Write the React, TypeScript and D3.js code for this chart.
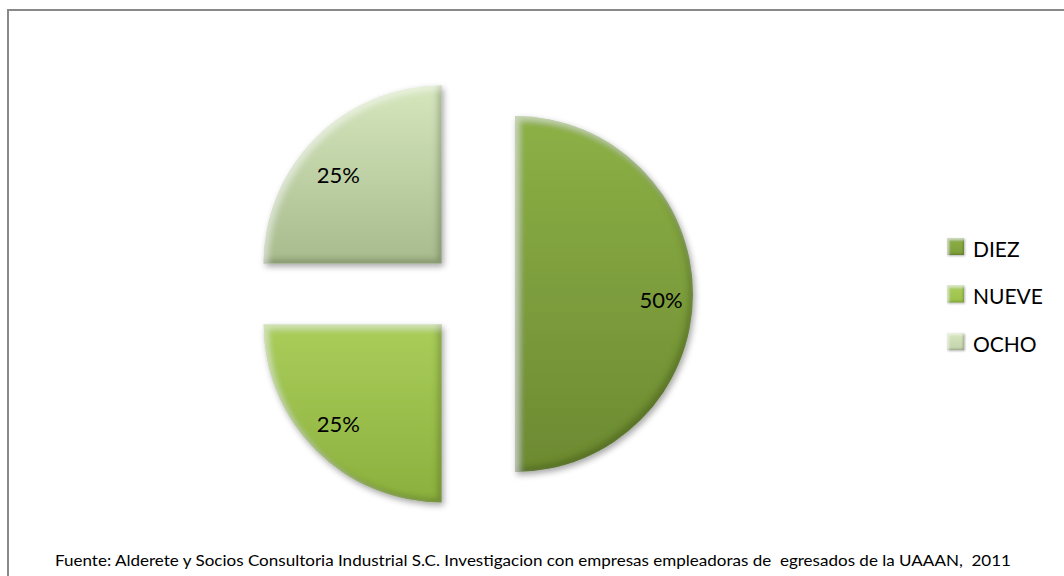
import React from "react";
import * as d3 from "d3";

const categories = ["DIEZ", "NUEVE", "OCHO"];
const values = [50, 25, 25];
const labels = ["50%", "25%", "25%"];
const topColors = ["#8db046", "#aacd5a", "#d6e6bd"];
const bottomColors = ["#6c8a32", "#8cb03e", "#a7bb8d"];
const legendColors = ["#7d9d3a", "#9cc14a", "#c4d3ad"];
const footer =
  "Fuente: Alderete y Socios Consultoria Industrial S.C. Investigacion con empresas empleadoras de  egresados de la UAAAN,  2011";

const W = 1064;
const H = 576;
const cx = 472;
const cy = 294;
const R = 178;
const explode = 43;
const FONT = "Lato, 'Open Sans', sans-serif";

export default function App() {
  const pie = d3
    .pie<number>()
    .sort(null)
    .startAngle(0)
    .endAngle(2 * Math.PI)
    .value((d) => d);
  const arcs = pie(values);
  const arcGen = d3.arc<d3.PieArcDatum<number>>().innerRadius(0).outerRadius(R);

  return (
    <svg
      width={W}
      height={H}
      style={{ position: "absolute", left: 0, top: 0, display: "block", background: "#fff" }}
    >
      <defs>
        {categories.map((c, i) => (
          <linearGradient key={c} id={`g${i}`} x1="0" y1="0" x2="0" y2="1">
            <stop offset="0%" stopColor={topColors[i]} />
            <stop offset="100%" stopColor={bottomColors[i]} />
          </linearGradient>
        ))}
        {categories.map((c, i) => (
          <linearGradient key={c + "l"} id={`lg${i}`} x1="0" y1="0" x2="0" y2="1">
            <stop offset="0%" stopColor={topColors[i]} />
            <stop offset="100%" stopColor={legendColors[i]} />
          </linearGradient>
        ))}
        <filter id="bevel" x="-15%" y="-15%" width="135%" height="135%">
          <feGaussianBlur in="SourceAlpha" stdDeviation="3" result="blur" />
          <feOffset in="blur" dx="-4" dy="-4" result="offDark" />
          <feComposite in="SourceAlpha" in2="offDark" operator="out" result="darkEdge" />
          <feFlood floodColor="#2a3a10" floodOpacity="0.45" />
          <feComposite in2="darkEdge" operator="in" result="darkFill" />
          <feOffset in="blur" dx="4" dy="4" result="offLight" />
          <feComposite in="SourceAlpha" in2="offLight" operator="out" result="lightEdge" />
          <feFlood floodColor="#ffffff" floodOpacity="0.45" />
          <feComposite in2="lightEdge" operator="in" result="lightFill" />
          <feGaussianBlur in="SourceAlpha" stdDeviation="3" result="sblur" />
          <feOffset in="sblur" dx="2" dy="3" result="soff" />
          <feFlood floodColor="#000" floodOpacity="0.35" />
          <feComposite in2="soff" operator="in" result="shadow" />
          <feMerge>
            <feMergeNode in="shadow" />
            <feMergeNode in="SourceGraphic" />
            <feMergeNode in="darkFill" />
            <feMergeNode in="lightFill" />
          </feMerge>
        </filter>
        <filter id="mbevel" x="-30%" y="-30%" width="170%" height="170%">
          <feGaussianBlur in="SourceAlpha" stdDeviation="1" result="blur" />
          <feOffset in="blur" dx="-1.5" dy="-1.5" result="offDark" />
          <feComposite in="SourceAlpha" in2="offDark" operator="out" result="darkEdge" />
          <feFlood floodColor="#2a3a10" floodOpacity="0.5" />
          <feComposite in2="darkEdge" operator="in" result="darkFill" />
          <feOffset in="blur" dx="1.5" dy="1.5" result="offLight" />
          <feComposite in="SourceAlpha" in2="offLight" operator="out" result="lightEdge" />
          <feFlood floodColor="#ffffff" floodOpacity="0.5" />
          <feComposite in2="lightEdge" operator="in" result="lightFill" />
          <feOffset in="blur" dx="1" dy="1" result="soff" />
          <feFlood floodColor="#000" floodOpacity="0.3" />
          <feComposite in2="soff" operator="in" result="shadow" />
          <feMerge>
            <feMergeNode in="shadow" />
            <feMergeNode in="SourceGraphic" />
            <feMergeNode in="darkFill" />
            <feMergeNode in="lightFill" />
          </feMerge>
        </filter>
      </defs>

      <rect x={8} y={10} width={W + 20} height={H + 20} fill="none" stroke="#898989" strokeWidth={2} />

      {arcs.map((a, i) => {
        const mid = (a.startAngle + a.endAngle) / 2;
        const ox = Math.sin(mid) * explode;
        const oy = -Math.cos(mid) * explode;
        const lx = Math.sin(mid) * R * 0.82;
        const ly = -Math.cos(mid) * R * 0.75 + 5;
        return (
          <g key={categories[i]} transform={`translate(${cx + ox},${cy + oy})`}>
            <path d={arcGen(a) || ""} fill={`url(#g${i})`} filter="url(#bevel)" />
            <text
              x={lx}
              y={ly}
              textAnchor="middle"
              dominantBaseline="central"
              fontFamily={FONT}
              fontSize={22}
              fill="#000"
            >
              {labels[i]}
            </text>
          </g>
        );
      })}

      {categories.map((c, i) => (
        <g key={c} transform={`translate(947,${238 + i * 47.5})`}>
          <rect x={0} y={0} width={17} height={17} fill={`url(#lg${i})`} filter="url(#mbevel)" />
          <text x={26} y={18.5} fontFamily={FONT} fontSize={21} fill="#000">
            {c}
          </text>
        </g>
      ))}

      <text
        x={55}
        y={566}
        fontFamily={FONT}
        fontSize={15}
        fill="#000"
        textLength={956}
        lengthAdjust="spacingAndGlyphs"
        style={{ whiteSpace: "pre" }}
      >
        {footer}
      </text>
    </svg>
  );
}
